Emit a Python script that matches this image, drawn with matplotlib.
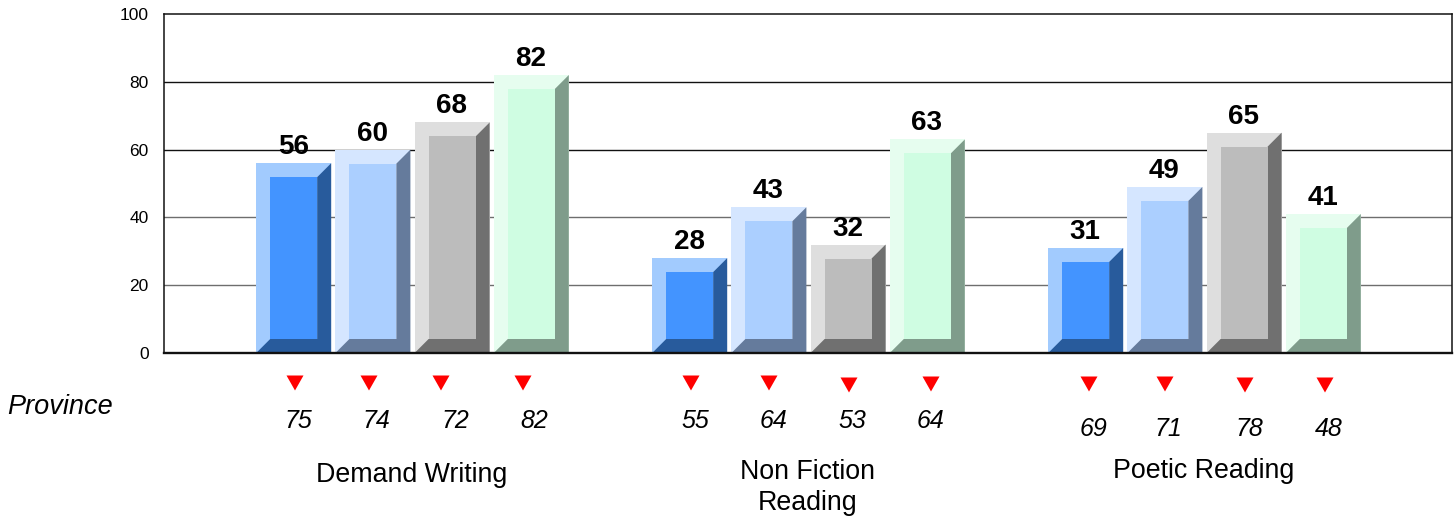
import matplotlib
matplotlib.use("Agg")
import matplotlib.pyplot as plt
from matplotlib.patches import Polygon, Rectangle
from matplotlib.transforms import Affine2D

plt.rcParams['font.family'] = ['Liberation Sans', 'DejaVu Sans']

W, H = 1455, 519
categories = ["Demand Writing", "Non Fiction\nReading", "Poetic Reading"]
school_values = [[56, 60, 68, 82], [28, 43, 32, 63], [31, 49, 65, 41]]
province_values = [[75, 74, 72, 82], [55, 64, 53, 64], [69, 71, 78, 48]]
y_ticks = [0, 20, 40, 60, 80, 100]

light = ["#a2cbfe", "#d5e6ff", "#dedede", "#e6fdef"]
front = ["#4394ff", "#abcfff", "#bcbcbc", "#cffde2"]
dark = ["#285b9c", "#657b9c", "#707070", "#7f9c8b"]

fig = plt.figure(figsize=(W / 100, H / 100), dpi=100)
L, R, T, B = 164, 1452, 14, 353
ax = fig.add_axes([L / W, 1 - B / H, (R - L) / W, (B - T) / H])
GROUP_PX, CENTER0 = 396.0, 412.5
ax.set_xlim((L - CENTER0) / GROUP_PX, (R - CENTER0) / GROUP_PX)
ax.set_ylim(0, 100)

pitch, bar_w = 0.2, 75 / GROUP_PX
bev_x = 14 / GROUP_PX
bev_y = 14 * 100 / (B - T)

for g, vals in enumerate(school_values):
    for i, v in enumerate(vals):
        c = g + (i - 1.5) * pitch
        x0, x1 = c - bar_w / 2, c + bar_w / 2
        ax.add_patch(Rectangle((x0, 0), bar_w, v, fc=light[i], ec='none', zorder=3))
        ax.add_patch(Polygon([(x0, 0), (x1, 0), (x1, v), (x1 - bev_x, v - bev_y),
                              (x1 - bev_x, bev_y), (x0 + bev_x, bev_y)],
                             closed=True, fc=dark[i], ec='none', zorder=3.1))
        ax.add_patch(Rectangle((x0 + bev_x, bev_y), bar_w - 2 * bev_x, v - 2 * bev_y,
                               fc=front[i], ec='none', zorder=3.2))
        ax.annotate(str(v), (c, v), xytext=(-0.5, 3), textcoords='offset pixels', ha='center', va='bottom',
                    fontsize=20, fontweight='bold', color='black', zorder=5)

for t in y_ticks[1:-1]:
    ax.axhline(t, color='#6e6e6e' if t < 60 else '#111111', lw=1.0, zorder=1)

ax.set_yticks(y_ticks)
ax.set_xticks([])
ax.tick_params(axis='y', length=0, labelsize=12.5, pad=11)
for s in ['left', 'top', 'bottom', 'right']:
    ax.spines[s].set_color('#111111')
    ax.spines[s].set_linewidth(1.1)
ax.spines['bottom'].set_linewidth(1.7)
ax.spines['bottom'].set_zorder(4)

px = Affine2D().scale(1, -1).translate(0, H)  # reference pixel layout for annotations below the axes
marker_x = [[295, 369, 441, 523], [691, 769, 849, 931], [1089, 1165, 1245, 1325]]
marker_y = [[383, 383, 383, 383], [383, 383, 385, 384], [384, 384, 385, 385]]
label_x = [[298, 376, 455, 534], [695, 773, 852, 930], [1093, 1168, 1249, 1329]]
label_y = [[421, 421, 421, 421], [421, 421, 421, 421], [429, 429, 429, 429]]
cat_x = [412, 808, 1204]
cat_y = [475, 487.5, 471]

for g, vals in enumerate(province_values):
    for i, v in enumerate(vals):
        fig.text(label_x[g][i], label_y[g][i], str(v), transform=px, ha='center', va='center',
                 fontsize=18, style='italic', color='black')
        mx, my = marker_x[g][i], marker_y[g][i]
        fig.add_artist(Polygon([(mx - 8.5, my - 7.5), (mx + 8.5, my - 7.5), (mx, my + 7.5)],
                               closed=True, fc='#ff0000', ec='none', transform=px))
    fig.text(cat_x[g], cat_y[g], categories[g], transform=px, ha='center', va='center',
             fontsize=19.3, color='black', linespacing=1.28)

fig.text(60, 407, "Province", transform=px, ha='center', va='center', fontsize=19.5, style='italic', color='black')

fig.savefig("out.png", dpi=100)
